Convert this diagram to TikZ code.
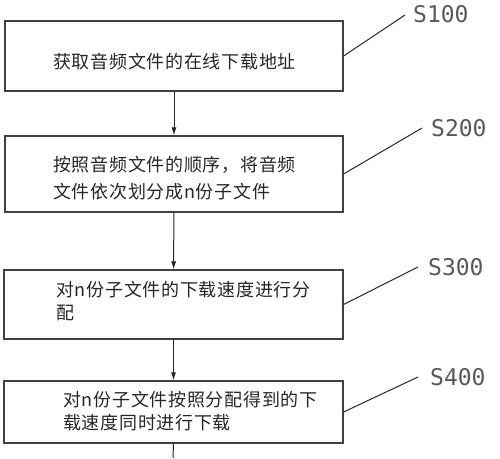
\documentclass[tikz,border=0pt]{standalone}
\usepackage{fontspec}
\newfontfamily\cjk[LetterSpace=4]{Noto Sans CJK SC}
\newfontfamily\labfont{DejaVu Sans Mono}
\usetikzlibrary{arrows.meta}
\tikzset{
  stepbox/.style={draw=black!75, line width=1.2pt, rectangle, inner sep=0pt},
  boxtext/.style={anchor=west, align=left, inner sep=0pt, font=\cjk\fontsize{18}{23}\selectfont, text=black!85},
  steplabel/.style={anchor=west, inner sep=0pt, font=\labfont\fontsize{23}{23}\selectfont, text=black!65},
  leader/.style={draw=black!85, line width=1.0pt},
  flow/.style={draw=black!85, line width=1.0pt, -{Latex[length=8pt,width=5pt]}},
}
\begin{document}
\begin{tikzpicture}[x=1pt,y=-1pt]
\useasboundingbox (0,0) rectangle (500,458);
% boxes
\node[stepbox, minimum width=338pt, minimum height=70pt] (b1) at (174,56) {};
\node[stepbox, minimum width=338pt, minimum height=76pt] (b2) at (174,174) {};
\node[stepbox, minimum width=339pt, minimum height=69pt] (b3) at (173.5,304.5) {};
\node[stepbox, minimum width=339pt, minimum height=62pt] (b4) at (173.5,412) {};
% texts
\node[boxtext] (t1) at (53,62) {获取音频文件的在线下载地址};
\node[boxtext, font=\cjk\fontsize{18}{27}\selectfont] (t2) at (53,178.5) {按照音频文件的顺序，将音频\\文件依次划分成n份子文件};
\node[boxtext] (t3) at (56,301.5) {对n份子文件的下载速度进行分\\配};
\node[boxtext] (t4) at (63,411.5) {对n份子文件按照分配得到的下\\载速度同时进行下载};
% connectors
\draw[flow] (b1) -- (b2);
\draw[flow] (b2) -- (b3);
\draw[flow] (b3) -- (b4);
\coordinate (endc) at (173,458);
\draw[leader] (b4.south) -- (endc);
% labels
\node[steplabel] (s1) at (413,14) {S100};
\node[steplabel] (s2) at (431,128) {S200};
\node[steplabel] (s3) at (428,267) {S300};
\node[steplabel] (s4) at (430,377) {S400};
\coordinate (l1) at (405,15);
\coordinate (l2) at (422,128);
\coordinate (l3) at (418,267);
\coordinate (l4) at (418,377);
\draw[leader] (b1.east) -- (l1);
\draw[leader] (b2.east) -- (l2);
\draw[leader] (b3.east) -- (l3);
\draw[leader] (b4.east) -- (l4);
\end{tikzpicture}
\end{document}
